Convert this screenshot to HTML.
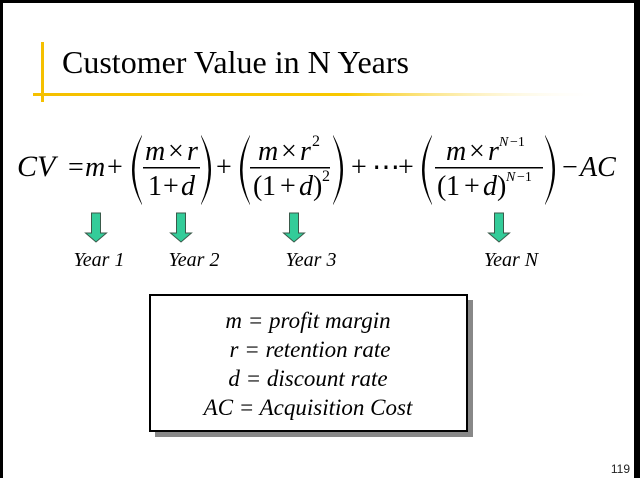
<!DOCTYPE html>
<html><head><meta charset="utf-8"><style>
html,body{margin:0;padding:0;background:#000;}
svg{display:block}
</style></head><body>
<svg width="640" height="478" viewBox="0 0 640 478" xmlns="http://www.w3.org/2000/svg">
<defs>
<linearGradient id="yl" x1="0" x2="1" y1="0" y2="0">
<stop offset="0" stop-color="#f5c000"/><stop offset="0.55" stop-color="#f8c800"/><stop offset="1" stop-color="#fff" stop-opacity="0"/>
</linearGradient>
<g id="arr"><path d="M-4.5,0 H4.5 V20 H10.5 L0,29 L-10.5,20 H-4.5 Z" fill="#33cc99" stroke="#3a5a4a" stroke-width="1"/></g>
<path id="lp" d="M14,0 Q-6,35 14,70 L14,69 Q-1,35 14,1 Z" fill="#000"/>
<path id="rp" d="M0,0 Q20,35 0,70 L0,69 Q15,35 0,1 Z" fill="#000"/>
</defs>
<rect x="3" y="3" width="631" height="475" fill="#fff"/>
<rect x="41" y="42" width="3" height="60" fill="#f5c000"/>
<rect x="33" y="93" width="570" height="3" fill="url(#yl)"/>
<text x="62" y="73" font-family="Liberation Serif, serif" font-size="32" fill="#000">Customer Value in N Years</text>

<g font-family="Liberation Serif, serif" font-size="28" fill="#000">
<text x="17" y="176" font-size="30" font-style="italic">CV</text>
<text x="68" y="176">=</text>
<text x="85" y="176" font-style="italic">m</text>
<text x="107" y="176">+</text>

<use href="#lp" x="128" y="135"/>
<text x="145" y="160" font-style="italic">m</text><text x="168" y="160">×</text><text x="187" y="160" font-style="italic">r</text>
<rect x="143" y="167" width="57" height="1.5"/>
<text x="148" y="195">1</text><text x="163" y="195">+</text><text x="181" y="195" font-style="italic">d</text>
<use href="#rp" x="201" y="135"/>
<text x="216" y="176">+</text>

<use href="#lp" x="236" y="135"/>
<text x="258" y="160" font-style="italic">m</text><text x="281" y="160">×</text><text x="300" y="160" font-style="italic">r</text>
<text x="312" y="146" font-size="16">2</text>
<rect x="250" y="167" width="80" height="1.5"/>
<text x="253" y="195">(</text><text x="262" y="195">1</text><text x="280" y="195">+</text><text x="299" y="195" font-style="italic">d</text><text x="313" y="195">)</text>
<text x="322" y="181" font-size="16">2</text>
<use href="#rp" x="333" y="135"/>

<text x="351" y="176">+</text>
<text x="372" y="176">⋯</text>
<text x="398" y="176">+</text>

<use href="#lp" x="418" y="135"/>
<text x="446" y="160" font-style="italic">m</text><text x="469" y="160">×</text><text x="488" y="160" font-style="italic">r</text>
<text x="499" y="146" font-size="14" font-style="italic">N</text><text x="510" y="146" font-size="14">−1</text>
<rect x="435" y="167" width="108" height="1.5"/>
<text x="437" y="195">(</text><text x="446" y="195">1</text><text x="464" y="195">+</text><text x="483" y="195" font-style="italic">d</text><text x="497" y="195">)</text>
<text x="506" y="181" font-size="14" font-style="italic">N</text><text x="517" y="181" font-size="14">−1</text>
<use href="#rp" x="545" y="135"/>

<text x="562" y="176">−</text>
<text x="580" y="176" font-style="italic">AC</text>
</g>

<use href="#arr" x="96" y="213"/>
<use href="#arr" x="181" y="213"/>
<use href="#arr" x="294" y="213"/>
<use href="#arr" x="499" y="213"/>

<g font-family="Liberation Serif, serif" font-size="20" font-style="italic" text-anchor="middle" fill="#000">
<text x="99" y="266">Year 1</text>
<text x="194" y="266">Year 2</text>
<text x="311" y="266">Year 3</text>
<text x="511" y="266">Year N</text>
</g>

<rect x="155" y="300" width="318" height="137" fill="#888"/>
<rect x="150" y="295" width="317" height="136" fill="#fff" stroke="#000" stroke-width="2"/>
<g font-family="Liberation Serif, serif" font-size="23" font-style="italic" text-anchor="middle" fill="#000">
<text x="308" y="328">m = profit margin</text>
<text x="310" y="357">r = retention rate</text>
<text x="308" y="386">d = discount rate</text>
<text x="308" y="415">AC = Acquisition Cost</text>
</g>
<text x="630" y="473" font-family="Liberation Sans, sans-serif" font-size="12" text-anchor="end" fill="#222">119</text>
</svg>
</body></html>
